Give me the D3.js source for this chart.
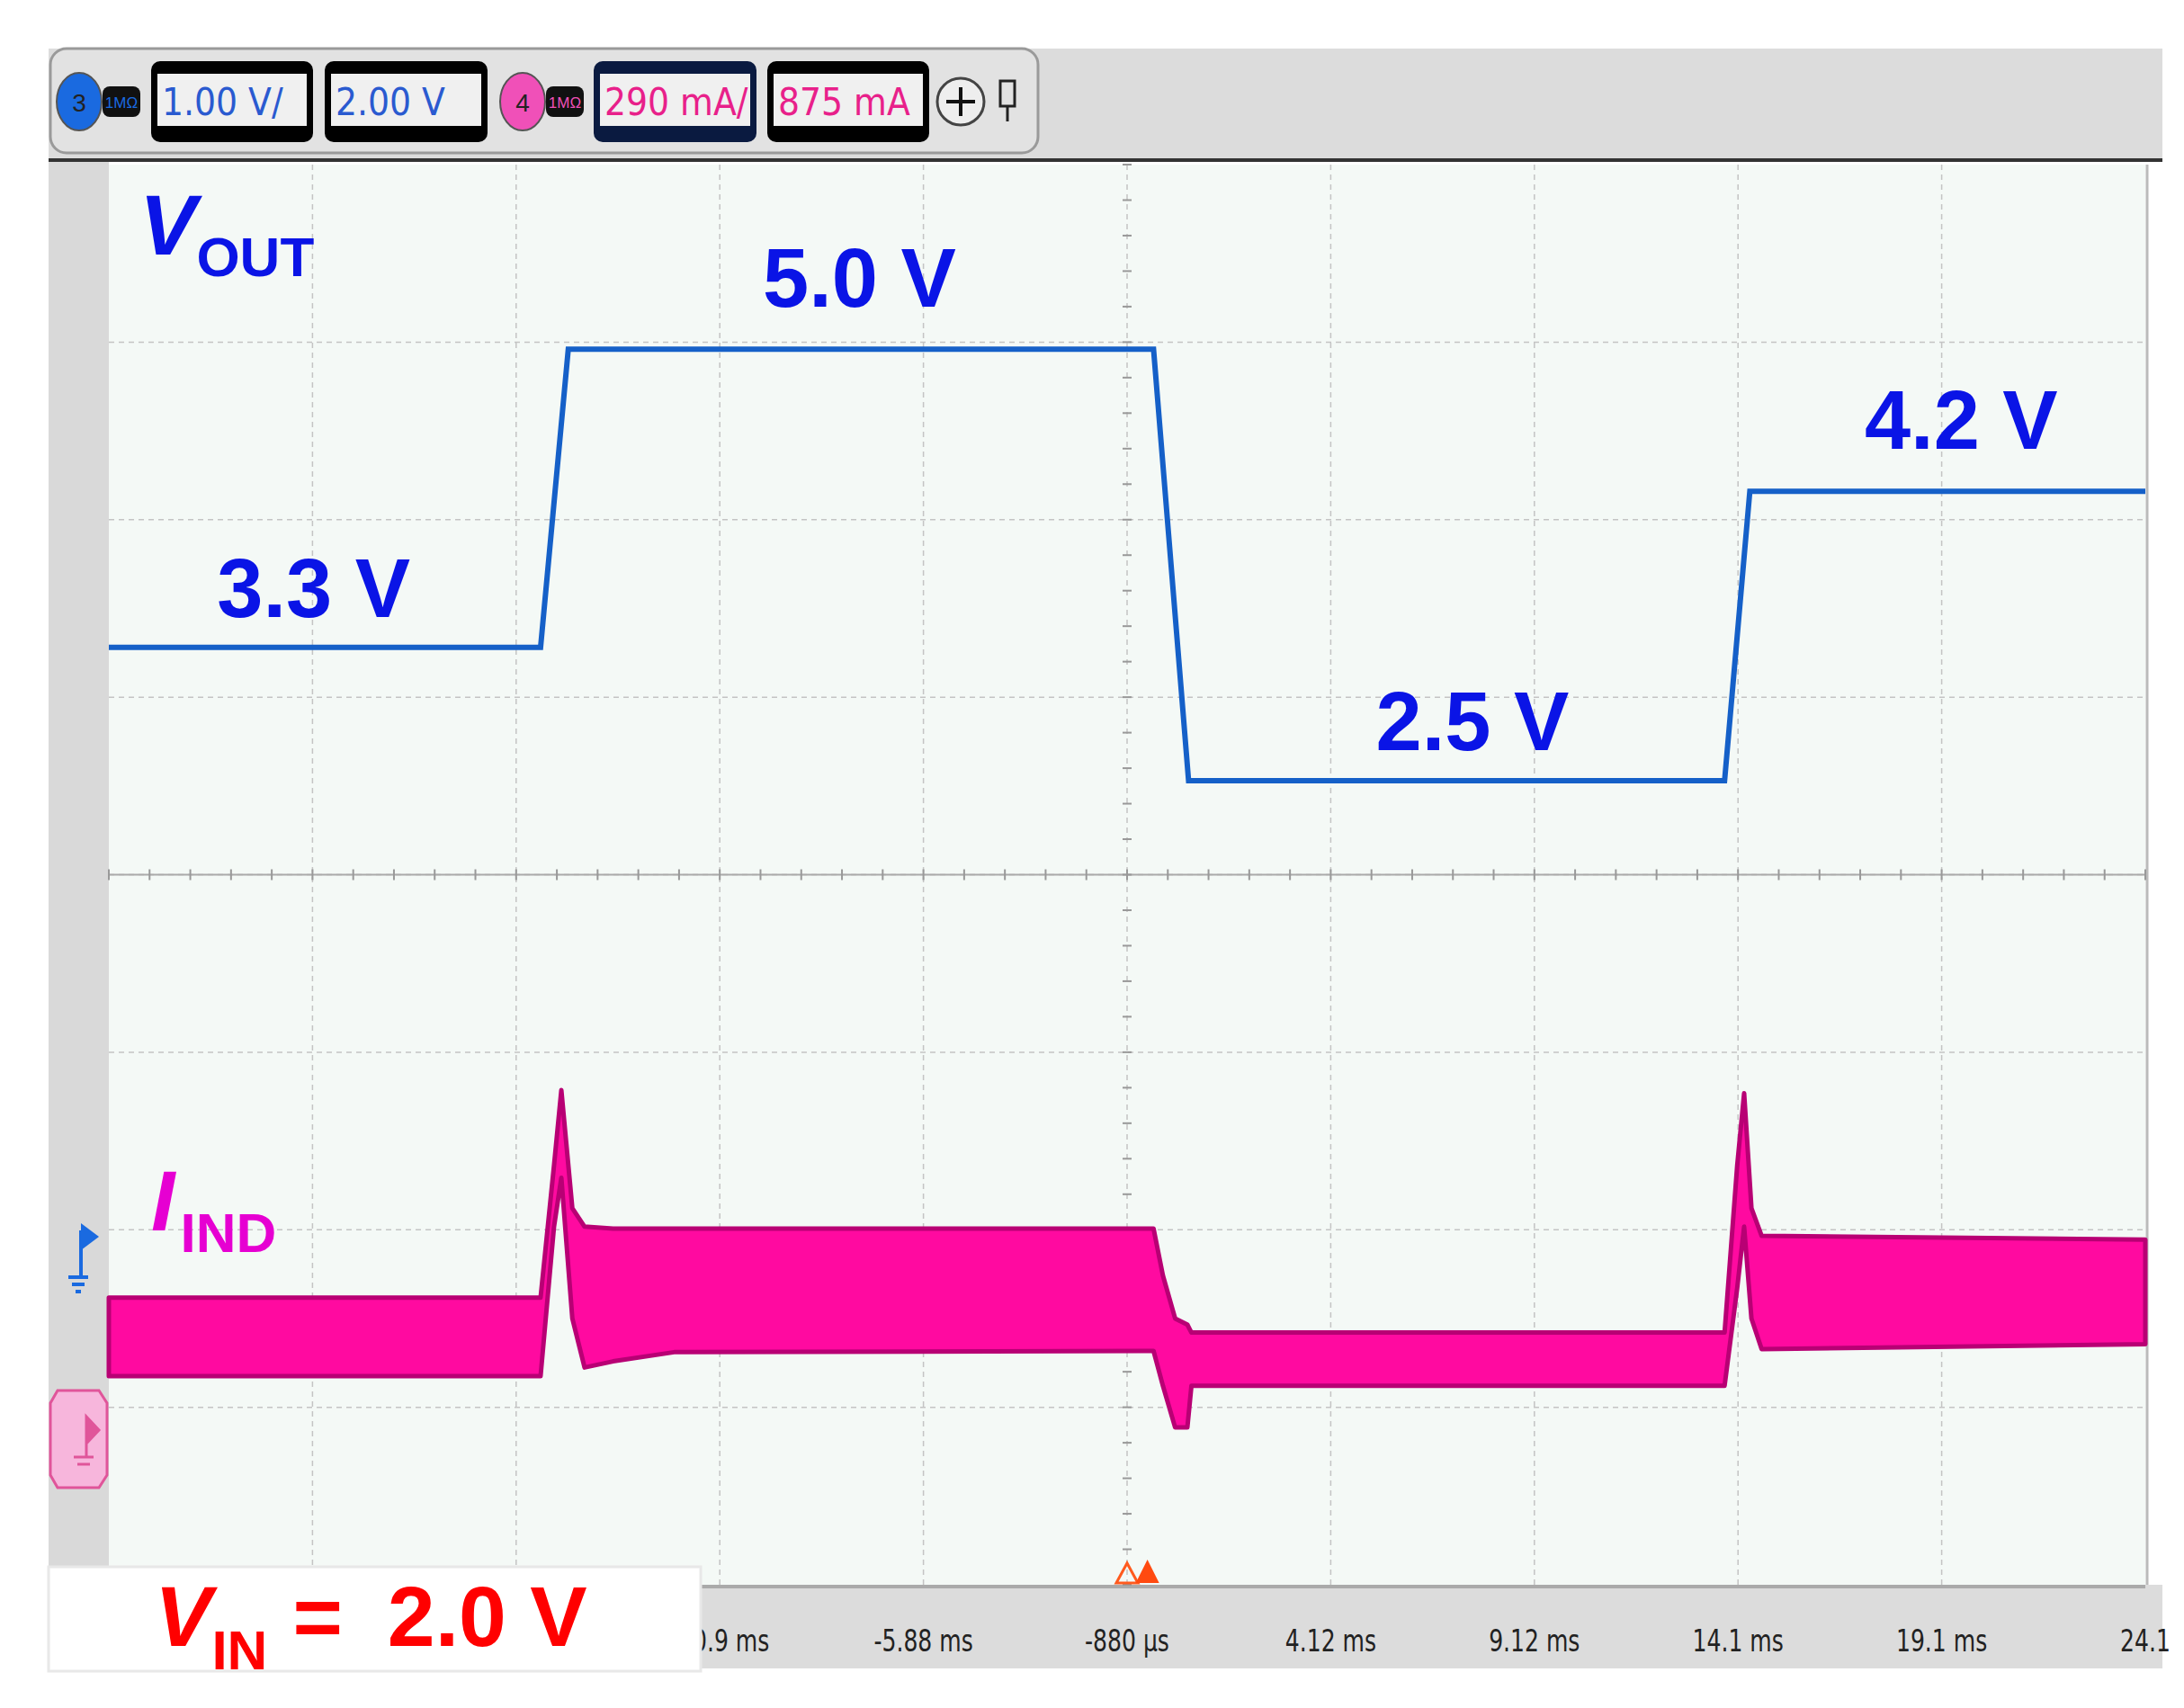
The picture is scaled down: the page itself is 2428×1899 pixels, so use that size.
<!DOCTYPE html>
<html><head><meta charset="utf-8">
<script src="https://cdn.jsdelivr.net/npm/d3@7"></script>
<style>body{margin:0;background:#fff}</style></head>
<body><svg id="c" width="2428" height="1899"></svg>
<script>
// ---- data ----
const voutTimes = [-25.88, -15.28, -14.6, -0.23, 0.63, 13.79, 14.41, 24.12];
const voutVolts = [3.28, 3.28, 4.96, 4.96, 2.53, 2.53, 4.16, 4.16];
const iTimes = [-25.88, -15.28, -14.95, -14.77, -14.5, -14.2, -13.5, -12, -0.23, 0.0, 0.3, 0.6, 0.7, 13.79, 14.1, 14.27, 14.45, 14.7, 24.12];
const iHigh  = [184, 184, 400, 523, 330, 300, 297, 297, 297, 220, 150, 140, 127, 127, 400, 518, 330, 285, 279];
const iLow   = [56, 56, 300, 380, 150, 70, 80, 95, 97, 40, -28, -28, 40, 40, 200, 300, 150, 100, 108];
const tickLabels = ["-10.9 ms","-5.88 ms","-880 µs","4.12 ms","9.12 ms","14.1 ms","19.1 ms","24.1"];
const tickTimes = [-10.88,-5.88,-0.88,4.12,9.12,14.12,19.12,24.12];
const levelLabels = [["3.3 V",-20.85,3.45],["5.0 V",-7.45,5.2],["2.5 V",7.6,2.7],["4.2 V",19.6,4.4]];

const svg = d3.select("#c");
const X0=121, X1=2385, Y0=183, Y1=1762;
const x = d3.scaleLinear().domain([-25.88,24.12]).range([X0,X1]);
const yV = d3.scaleLinear().domain([-2,6]).range([Y1,Y0]);
const yI = d3.scaleLinear().domain([-285,2035]).range([Y1,Y0]);

// backgrounds
svg.append("rect").attr("x",54).attr("y",54).attr("width",2350).attr("height",124).attr("fill","#dcdcdc");
svg.append("rect").attr("x",54).attr("y",178).attr("width",67).attr("height",1584).attr("fill","#d9d9d9");
svg.append("rect").attr("x",54).attr("y",1762).attr("width",2350).attr("height",93).attr("fill","#dcdcdc");
svg.append("rect").attr("x",X0).attr("y",Y0).attr("width",X1-X0).attr("height",Y1-Y0).attr("fill","#f4f9f6");
svg.append("line").attr("x1",54).attr("x2",2404).attr("y1",178).attr("y2",178).attr("stroke","#333").attr("stroke-width",4);
svg.append("line").attr("x1",X0).attr("x2",X1).attr("y1",Y1+2).attr("y2",Y1+2).attr("stroke","#aaa").attr("stroke-width",4);
svg.append("line").attr("x1",X1+2).attr("x2",X1+2).attr("y1",Y0).attr("y2",Y1).attr("stroke","#bbb").attr("stroke-width",3);

// grid
const g = svg.append("g");
d3.range(1,10).forEach(i=>{const xx=X0+(X1-X0)*i/10;
  g.append("line").attr("x1",xx).attr("x2",xx).attr("y1",Y0).attr("y2",Y1).attr("stroke","#c4c4c4").attr("stroke-width",1.5).attr("stroke-dasharray","6,5");});
d3.range(1,8).forEach(i=>{const yy=Y0+(Y1-Y0)*i/8;
  g.append("line").attr("x1",X0).attr("x2",X1).attr("y1",yy).attr("y2",yy).attr("stroke","#c4c4c4").attr("stroke-width",1.5).attr("stroke-dasharray","6,5");});
const cy=(Y0+Y1)/2, cx=(X0+X1)/2;
g.append("line").attr("x1",X0).attr("x2",X1).attr("y1",cy).attr("y2",cy).attr("stroke","#aaa").attr("stroke-width",2);
d3.range(0,51).forEach(i=>{const xx=X0+(X1-X0)*i/50;
  g.append("line").attr("x1",xx).attr("x2",xx).attr("y1",cy-6).attr("y2",cy+6).attr("stroke","#999").attr("stroke-width",2);});
d3.range(0,41).forEach(i=>{const yy=Y0+(Y1-Y0)*i/40;
  g.append("line").attr("x1",cx-5).attr("x2",cx+5).attr("y1",yy).attr("y2",yy).attr("stroke","#999").attr("stroke-width",2);});

// current band
const iData = iTimes.map((t,i)=>({t,h:iHigh[i],l:iLow[i]}));
svg.append("path").datum(iData)
  .attr("d",d3.area().x(d=>x(d.t)).y0(d=>yI(d.l)).y1(d=>yI(d.h)))
  .attr("fill","#ff0aa0").attr("stroke","#b80074").attr("stroke-width",5).attr("stroke-linejoin","round");

// vout
const vData = voutTimes.map((t,i)=>({t,v:voutVolts[i]}));
svg.append("path").datum(vData).attr("d",d3.line().x(d=>x(d.t)).y(d=>yV(d.v)))
  .attr("fill","none").attr("stroke","#1560c8").attr("stroke-width",6);

// ticks (drawn before VIN box, which covers the leftmost one as in the reference)
tickTimes.forEach((t,i)=>{
  svg.append("text").attr("x",x(t)).attr("y",1836).attr("text-anchor","middle")
    .attr("font-family","Liberation Sans Narrow, DejaVu Sans Condensed, sans-serif").attr("font-size",34).attr("fill","#222")
    .attr("transform",`translate(${x(t)},0) scale(0.82,1) translate(${-x(t)},0)`).text(tickLabels[i]);});

// labels
const font="Liberation Sans, Arial, sans-serif";
levelLabels.forEach(([txt,t,v])=>{
  svg.append("text").attr("x",x(t)).attr("y",yV(v)).attr("text-anchor","middle")
    .attr("font-family",font).attr("font-weight","bold").attr("font-size",92).attr("fill","#0a14e6").text(txt);});
let tv=svg.append("text").attr("x",155).attr("y",283).attr("font-family",font).attr("font-weight","bold").attr("fill","#0a14e6");
tv.append("tspan").attr("font-style","italic").attr("font-size",95).text("V");
tv.append("tspan").attr("font-size",62).attr("dy",24).text("OUT");
let ti=svg.append("text").attr("x",168).attr("y",1368).attr("font-family",font).attr("font-weight","bold").attr("fill","#e600d2");
ti.append("tspan").attr("font-style","italic").attr("font-size",95).text("I");
ti.append("tspan").attr("font-size",62).attr("dy",24).attr("dx",6).text("IND");

// trigger markers
svg.append("path").attr("d",`M${x(-0.88)-12},${Y1-2} L${x(-0.88)},${Y1-24} L${x(-0.88)+12},${Y1-2}Z`).attr("fill","none").attr("stroke","#ff5a1e").attr("stroke-width",3);
svg.append("path").attr("d",`M${x(-0.38)-13},${Y1-2} L${x(-0.38)},${Y1-28} L${x(-0.38)+13},${Y1-2}Z`).attr("fill","#ff4a10");

// ground markers
svg.append("path").attr("d",`M90,1360 L110,1375 L90,1390Z`).attr("fill","#1a6ae0");
svg.append("path").attr("d",`M90,1368 L90,1420 M76,1420 L98,1420 M80,1428 L94,1428 M84,1436 L90,1436`).attr("stroke","#1a6ae0").attr("stroke-width",4);
svg.append("path").attr("d",`M64,1546 L110,1546 L119,1560 L119,1640 L110,1654 L64,1654 L56,1640 L56,1560Z`).attr("fill","#f7b6dc").attr("stroke","#e0559a").attr("stroke-width",3);
svg.append("path").attr("d",`M96,1575 L110,1590 L96,1605Z M96,1590 L96,1620 M82,1620 L104,1620 M86,1628 L100,1628`).attr("stroke","#e0559a").attr("fill","#e0559a").attr("stroke-width",3);

// VIN box
svg.append("rect").attr("x",54).attr("y",1742).attr("width",725).attr("height",116).attr("fill","#fff").attr("stroke","#e8e8e8").attr("stroke-width",3);
let tin=svg.append("text").attr("x",172).attr("y",1830).attr("font-family",font).attr("font-weight","bold").attr("fill","#ff0000");
tin.append("tspan").attr("font-style","italic").attr("font-size",95).text("V");
tin.append("tspan").attr("font-size",62).attr("dy",26).text("IN");
tin.append("tspan").attr("font-size",95).attr("dy",-26).attr("dx",28).text("=");
tin.append("tspan").attr("font-size",95).attr("dx",50).text("2.0 V");

// toolbar
svg.append("rect").attr("x",56).attr("y",54).attr("width",1098).attr("height",116).attr("rx",18).attr("fill","#e2e2e2").attr("stroke","#9a9a9a").attr("stroke-width",3);
function chan(cxp,num,col){
  svg.append("ellipse").attr("cx",cxp).attr("cy",113).attr("rx",25).attr("ry",32).attr("fill",col).attr("stroke","#555").attr("stroke-width",2);
  svg.append("text").attr("x",cxp).attr("y",124).attr("text-anchor","middle").attr("font-family",font).attr("font-size",28).attr("fill","#222").text(num);
  svg.append("rect").attr("x",cxp+26).attr("y",96).attr("width",42).attr("height",34).attr("rx",8).attr("fill","#111");
  svg.append("text").attr("x",cxp+47).attr("y",120).attr("text-anchor","middle").attr("font-family",font).attr("font-size",17).attr("fill",col).text("1MΩ");
}
function box(x0,w,txt,col,bc){
  svg.append("rect").attr("x",x0).attr("y",68).attr("width",w).attr("height",90).attr("rx",10).attr("fill",bc);
  svg.append("rect").attr("x",x0+7).attr("y",82).attr("width",w-14).attr("height",58).attr("fill","#f0f0f0");
  svg.append("text").attr("x",x0+12).attr("y",128).attr("font-family","Liberation Sans Narrow, DejaVu Sans Condensed, sans-serif").attr("font-size",42).attr("fill",col).text(txt);
}
chan(88,"3","#1a6ae0"); box(168,180,"1.00 V/","#2a5ad0","#000"); box(361,181,"2.00 V","#2a5ad0","#000");
chan(581,"4","#f050b8"); box(660,181,"290 mA/","#e8208a","#0a1a40"); box(853,180,"875 mA","#e8208a","#000");
svg.append("circle").attr("cx",1068).attr("cy",113).attr("r",26).attr("fill","#eee").attr("stroke","#444").attr("stroke-width",3);
svg.append("path").attr("d","M1052,113 L1084,113 M1068,97 L1068,129").attr("stroke","#111").attr("stroke-width",4);
svg.append("path").attr("d","M1112,90 L1128,90 L1128,118 L1112,118Z M1120,118 L1120,135").attr("fill","none").attr("stroke","#222").attr("stroke-width",3);
</script></body></html>
